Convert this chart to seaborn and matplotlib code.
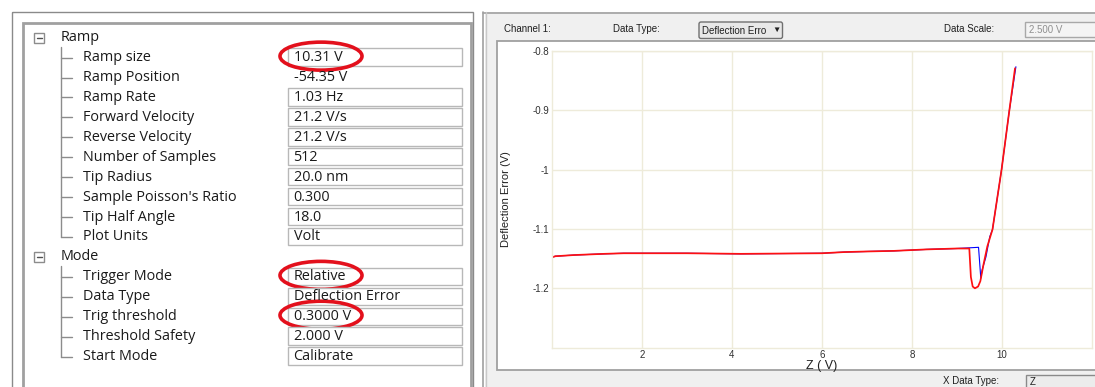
import matplotlib
matplotlib.use("Agg")
import matplotlib.pyplot as plt
from matplotlib.patches import Rectangle, Ellipse, FancyBboxPatch
import seaborn as sns
import pandas as pd

# ---- settings tree (left panel) ----
ramp_params = ["Ramp size", "Ramp Position", "Ramp Rate", "Forward Velocity", "Reverse Velocity",
               "Number of Samples", "Tip Radius", "Sample Poisson's Ratio", "Tip Half Angle", "Plot Units"]
ramp_values = ["10.31 V", "-54.35 V", "1.03 Hz", "21.2 V/s", "21.2 V/s",
               "512", "20.0 nm", "0.300", "18.0", "Volt"]
mode_params = ["Trigger Mode", "Data Type", "Trig threshold", "Threshold Safety", "Start Mode"]
mode_values = ["Relative", "Deflection Error", "0.3000 V", "2.000 V", "Calibrate"]
readonly_params = ["Ramp Position"]
circled_params = ["Ramp size", "Trigger Mode", "Trig threshold"]

# ---- force curve (right panel) ----
z_approach = [0.0, 0.08, 0.5, 1.16, 1.6, 3.0, 4.2, 6.0, 6.5, 7.0, 7.6, 8.33, 9.0, 9.48,
              9.53, 9.56, 9.645, 9.73, 9.79, 9.99, 10.16, 10.31]
defl_approach = [-1.148, -1.146, -1.144, -1.142, -1.141, -1.141, -1.142, -1.141, -1.139, -1.138, -1.137,
                 -1.1345, -1.133, -1.131, -1.183, -1.169, -1.147, -1.113, -1.101, -1.001, -0.903, -0.827]
z_retract = [0.0, 0.08, 0.5, 1.16, 1.6, 3.0, 4.2, 6.0, 6.5, 7.0, 7.6, 8.33, 9.0, 9.275,
             9.31, 9.35, 9.40, 9.47, 9.52, 9.59, 9.675, 9.79, 9.99, 10.16, 10.29]
defl_retract = [-1.148, -1.146, -1.144, -1.142, -1.141, -1.141, -1.142, -1.141, -1.139, -1.138, -1.137,
                -1.1345, -1.133, -1.133, -1.181, -1.197, -1.200, -1.197, -1.188, -1.160, -1.1295,
                -1.101, -1.001, -0.903, -0.8296]
x_ticks = [2, 4, 6, 8, 10]
y_ticks = [-0.8, -0.9, -1.0, -1.1, -1.2]
y_ticklabels = ["-0.8", "-0.9", "-1", "-1.1", "-1.2"]

sns.set_style("white")
plt.rcParams["font.family"] = ["Liberation Sans", "DejaVu Sans"]

W, H = 1095, 387
fig = plt.figure(figsize=(W / 100, H / 100), dpi=100)
fig.patch.set_facecolor("white")

bg = fig.add_axes([0, 0, 1, 1])
bg.set_xlim(0, W)
bg.set_ylim(H, 0)
bg.axis("off")

# left panel frames
bg.add_patch(Rectangle((12, 12), 461, 390, fill=False, edgecolor="#8a8a8a", lw=1))
bg.add_patch(Rectangle((23, 23), 448, 380, facecolor="white", edgecolor="#a0a0a0", lw=2))

tree_font = dict(family=["Open Sans", "DejaVu Sans"], fontsize=10.4, color="#1a1a1a", va="center")
row_h = 19.93
y0 = 37.7


def draw_group(name, params, values, start_row):
    yg = y0 + start_row * row_h
    bg.add_patch(Rectangle((33.5, yg - 5), 10.5, 10.5, fill=False, edgecolor="#8c8c8c", lw=1))
    bg.plot([36.5, 41.5], [yg + 0.3, yg + 0.3], color="#505050", lw=1)
    bg.text(60.7, yg, name, **tree_font)
    last_y = yg + len(params) * row_h
    bg.plot([61, 61], [yg + 9, last_y], color="#8c8c8c", lw=1)
    for i, (p, v) in enumerate(zip(params, values)):
        yr = yg + (i + 1) * row_h
        bg.plot([61, 72], [yr, yr], color="#8c8c8c", lw=1)
        bg.text(82.7, yr, p, **tree_font)
        if p not in readonly_params:
            bg.add_patch(Rectangle((287.5, yr - 9.2), 174, 17.4, facecolor="white",
                                   edgecolor="#b8b8b8", lw=1))
        bg.text(293.5, yr, v, **tree_font)
        if p in circled_params:
            bg.add_patch(Ellipse((321, yr - 1.5), 82, 28, fill=False, edgecolor="#e3101c", lw=2.6))


draw_group("Ramp", ramp_params, ramp_values, 0)
draw_group("Mode", mode_params, mode_values, len(ramp_params) + 1)

# right panel background and header
bg.add_patch(Rectangle((485, 12), 620, 390, facecolor="#f0f0f0", edgecolor="none"))
bg.plot([483, W], [12.5, 12.5], color="#a0a0a0", lw=1.2)
bg.plot([483, 483], [12, H], color="#a0a0a0", lw=1.2)
bg.plot([485.5, 485.5], [12, H], color="#c8c8c8", lw=1)
bg.add_patch(Rectangle((496.7, 40.7), 620, 329.6, facecolor="white", edgecolor="#a0a0a0", lw=1.3))

hdr = dict(fontsize=7, color="#202020", va="center")
bg.text(504, 29.5, "Channel 1:", **hdr)
bg.text(613, 29.5, "Data Type:", **hdr)
bg.add_patch(FancyBboxPatch((699, 22), 83.5, 16.5, boxstyle="round,pad=0,rounding_size=2",
                            facecolor="#e8e8e8", edgecolor="#707070", lw=1))
bg.text(702, 30.5, "Deflection Erro", **hdr)
bg.text(776.5, 30.5, "\u25BC", fontsize=6, color="#202020", va="center", ha="center")
bg.text(944, 29.5, "Data Scale:", **hdr)
bg.add_patch(Rectangle((1025, 21.7), 80, 15.6, facecolor="#f4f4f4", edgecolor="#a8a8a8", lw=1))
bg.text(1029, 30, "2.500 V", fontsize=7, color="#909090", va="center")
bg.text(943, 381, "X Data Type:", **hdr)
bg.add_patch(Rectangle((1025.7, 375), 80, 20, facecolor="#ececec", edgecolor="#8a8a8a", lw=1))
bg.text(1030, 382, "Z", **hdr)

# force curve axes
ax = fig.add_axes([551.7 / W, (H - 347.7) / H, (1092 - 551.7) / W, (347.7 - 50.7) / H])
ax.set_facecolor("white")
approach = pd.DataFrame({"z": z_approach, "defl": defl_approach})
retract = pd.DataFrame({"z": z_retract, "defl": defl_retract})
sns.lineplot(data=approach, x="z", y="defl", ax=ax, color="#0000ff", lw=0.8,
             sort=False, estimator=None)
sns.lineplot(data=retract, x="z", y="defl", ax=ax, color="#ff1010", lw=1.25,
             sort=False, estimator=None)
ax.set_xlim(0, 12)
ax.set_ylim(-1.3, -0.8)
ax.set_xticks(x_ticks)
ax.set_yticks(y_ticks)
ax.set_yticklabels(y_ticklabels)
ax.grid(True, color="#eeebda", lw=1)
for s in ax.spines.values():
    s.set_color("#eeebda")
    s.set_linewidth(1)
ax.tick_params(length=0, labelsize=7, colors="#303030", pad=1.5)
ax.set_xlabel("Z ( V)", fontsize=9, color="#202020", labelpad=0)
ax.set_ylabel("Deflection Error (V)", fontsize=8, color="#202020", labelpad=16)

fig.savefig("out.png", dpi=100)
